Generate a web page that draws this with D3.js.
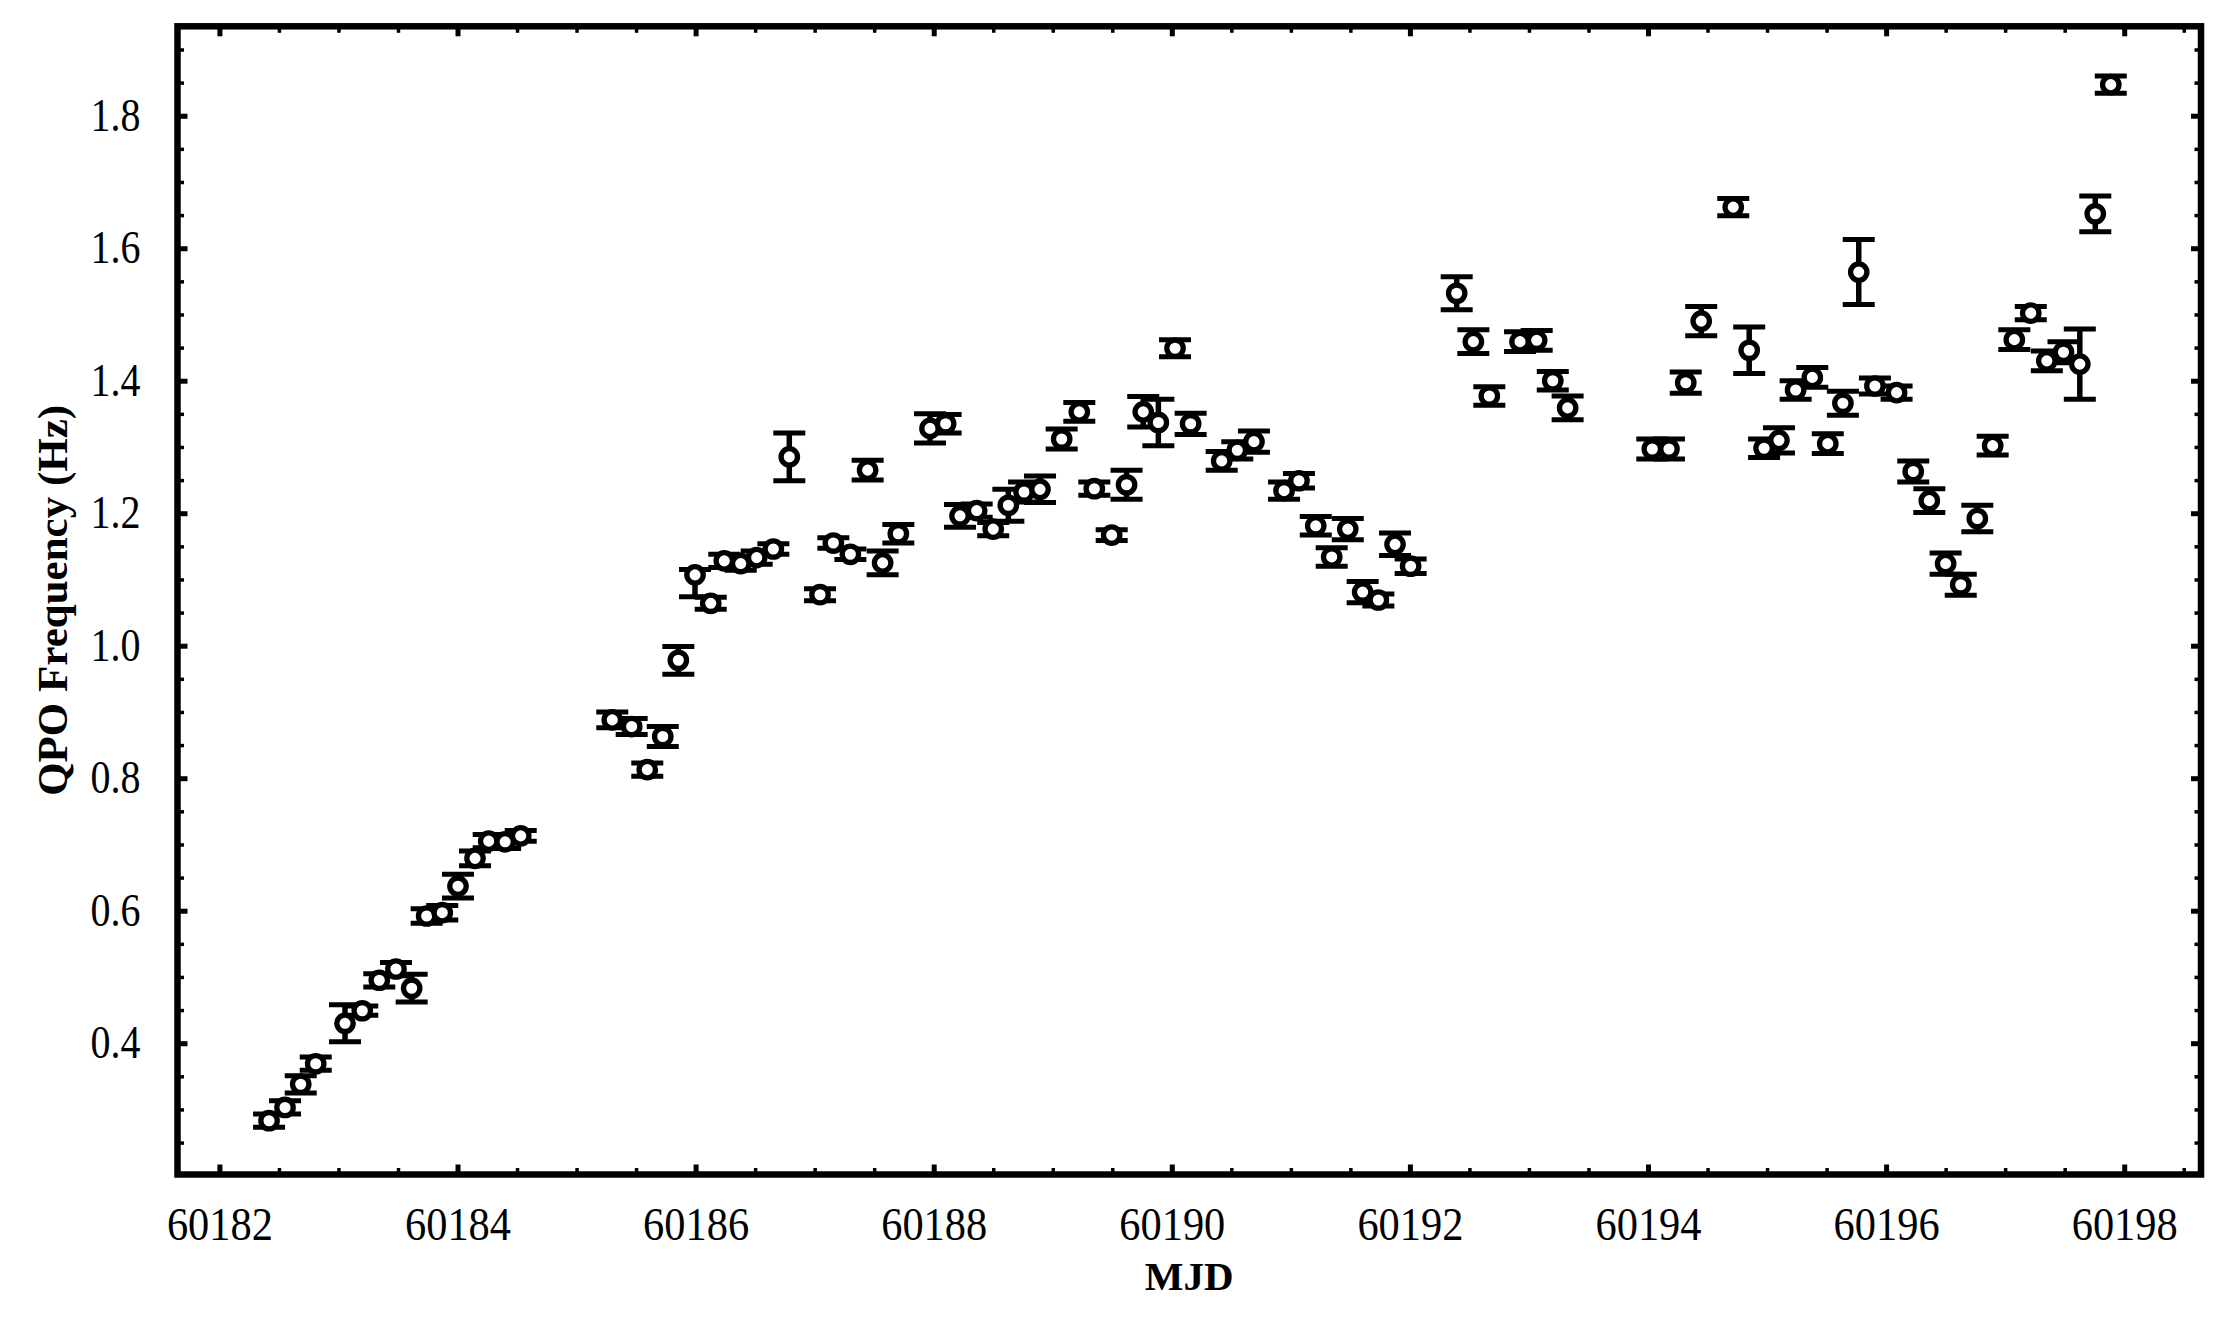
<!DOCTYPE html>
<html>
<head>
<meta charset="utf-8">
<script src="https://cdn.jsdelivr.net/npm/d3@7"></script>
<style>
  body { margin: 0; background: #fff; }
  svg { display: block; }
</style>
</head>
<body>
<div id="chart"></div>
<script>
// QPO frequency vs MJD
var mjd = [
  60182.417, 60182.551, 60182.683, 60182.809, 60183.055, 60183.200, 60183.343, 60183.483,
  60183.615, 60183.741, 60183.872, 60184.004, 60184.147, 60184.262, 60184.400, 60184.531,
  60185.300, 60185.463, 60185.594, 60185.724, 60185.855, 60185.995, 60186.127, 60186.241,
  60186.379, 60186.513, 60186.653, 60186.787, 60187.045, 60187.157, 60187.300, 60187.445,
  60187.571, 60187.703, 60187.969, 60188.100, 60188.221, 60188.361, 60188.500, 60188.627,
  60188.759, 60188.893, 60189.075, 60189.223, 60189.349, 60189.495, 60189.620, 60189.760,
  60189.887, 60190.027, 60190.158, 60190.419, 60190.550, 60190.690, 60190.943, 60191.068,
  60191.209, 60191.343, 60191.478, 60191.603, 60191.735, 60191.875, 60192.006, 60192.393,
  60192.533, 60192.667, 60192.925, 60193.065, 60193.200, 60193.325,
  60194.036, 60194.176, 60194.317, 60194.447, 60194.716, 60194.850, 60194.975, 60195.100,
  60195.240, 60195.380, 60195.510, 60195.637, 60195.770, 60195.906, 60196.088, 60196.228,
  60196.363, 60196.500, 60196.627, 60196.766, 60196.895, 60197.077, 60197.215, 60197.350,
  60197.490, 60197.627, 60197.757, 60197.887
];
var freq = [
  0.283, 0.303, 0.338, 0.369, 0.430, 0.449, 0.495, 0.512,
  0.483, 0.592, 0.597, 0.637, 0.679, 0.705, 0.704, 0.713,
  0.888, 0.878, 0.813, 0.863, 0.978, 1.107, 1.064, 1.128,
  1.124, 1.133, 1.146, 1.285, 1.077, 1.155, 1.138, 1.265,
  1.125, 1.169, 1.328, 1.335, 1.196, 1.204, 1.176, 1.212,
  1.232, 1.236, 1.312, 1.353, 1.237, 1.167, 1.243, 1.353,
  1.337, 1.449, 1.335, 1.279, 1.295, 1.308, 1.234, 1.249,
  1.181, 1.134, 1.176, 1.081, 1.069, 1.153, 1.120, 1.532,
  1.459, 1.377, 1.459, 1.461, 1.400, 1.359,
  1.297, 1.297, 1.397, 1.490, 1.662, 1.446, 1.298, 1.310,
  1.386, 1.405, 1.305, 1.366, 1.564, 1.392, 1.382, 1.263,
  1.219, 1.124, 1.092, 1.192, 1.302, 1.462, 1.502, 1.430,
  1.443, 1.425, 1.652, 1.847
];
// upper / lower error
var errHi = [
  0.010, 0.010, 0.013, 0.010, 0.028, 0.007, 0.010, 0.010,
  0.021, 0.011, 0.011, 0.018, 0.011, 0.010, 0.010, 0.008,
  0.012, 0.012, 0.010, 0.015, 0.021, 0.008, 0.009, 0.010,
  0.010, 0.010, 0.008, 0.036, 0.009, 0.008, 0.008, 0.015,
  0.018, 0.014, 0.022, 0.014, 0.017, 0.010, 0.010, 0.024,
  0.015, 0.020, 0.015, 0.014, 0.010, 0.008, 0.022, 0.023,
  0.035, 0.013, 0.016, 0.014, 0.013, 0.016, 0.013, 0.011,
  0.014, 0.014, 0.016, 0.016, 0.009, 0.017, 0.011, 0.025,
  0.018, 0.014, 0.015, 0.015, 0.014, 0.018,
  0.015, 0.015, 0.016, 0.022, 0.013, 0.035, 0.014, 0.019,
  0.014, 0.015, 0.015, 0.018, 0.049, 0.012, 0.010, 0.016,
  0.018, 0.016, 0.016, 0.020, 0.014, 0.015, 0.010, 0.015,
  0.016, 0.053, 0.027, 0.013
];
var errLo = [
  0.010, 0.010, 0.013, 0.010, 0.028, 0.007, 0.010, 0.010,
  0.021, 0.011, 0.011, 0.018, 0.011, 0.010, 0.010, 0.008,
  0.012, 0.012, 0.010, 0.015, 0.021, 0.033, 0.009, 0.010,
  0.010, 0.010, 0.008, 0.036, 0.009, 0.008, 0.008, 0.015,
  0.018, 0.014, 0.022, 0.014, 0.017, 0.010, 0.010, 0.024,
  0.015, 0.020, 0.015, 0.014, 0.010, 0.008, 0.022, 0.023,
  0.035, 0.013, 0.016, 0.014, 0.013, 0.016, 0.013, 0.011,
  0.014, 0.014, 0.016, 0.016, 0.009, 0.017, 0.011, 0.025,
  0.018, 0.014, 0.015, 0.015, 0.014, 0.018,
  0.015, 0.015, 0.016, 0.022, 0.013, 0.035, 0.014, 0.019,
  0.014, 0.015, 0.015, 0.018, 0.049, 0.012, 0.010, 0.016,
  0.018, 0.016, 0.016, 0.020, 0.014, 0.015, 0.010, 0.015,
  0.016, 0.053, 0.027, 0.013
];

var xTicks = [60182, 60184, 60186, 60188, 60190, 60192, 60194, 60196, 60198];
var yTicks = [0.4, 0.6, 0.8, 1.0, 1.2, 1.4, 1.6, 1.8];

var width = 2230, height = 1322;
var box = { left: 177.5, right: 2201, top: 26.3, bottom: 1174.5 };
var font = "'Liberation Serif', 'Times New Roman', serif";

var data = mjd.map(function(d, i) {
    return { t: d, f: freq[i], hi: errHi[i], lo: errLo[i] };
});

var svg = d3.select("#chart")
    .append("svg")
    .attr("width", width)
    .attr("height", height)
    .style("background", "#fff");

var x = d3.scaleLinear()
    .domain([60181.648, 60198.645])
    .range([box.left, box.right]);

var y = d3.scaleLinear()
    .domain([0.2018, 1.935])
    .range([box.bottom, box.top]);

// minor ticks every half day / 0.05 Hz
var xMinor = d3.range(60181.5, 60199, 0.5).filter(function(d) {
    return d > x.domain()[0] && d < x.domain()[1] && d % 2 !== 0;
});
var yMinor = d3.range(0.25, 1.95, 0.05).filter(function(d) {
    return Math.abs(Math.round(d * 5) - d * 5) > 0.01;
});

// the labels in the figure are a narrow Times face
function styleAxis(g, w, len) {
    g.select(".domain").remove();
    g.attr("font-family", null);
    g.selectAll(".tick line").attr("stroke", "#000").attr("stroke-width", w);
    var t = g.selectAll(".tick text")
        .style("font-family", font)
        .style("font-size", "46px")
        .attr("fill", "#000");
    if (len) {
        t.attr("textLength", len).attr("lengthAdjust", "spacingAndGlyphs");
    }
}

// bottom
svg.append("g")
    .attr("transform", "translate(0," + box.bottom + ")")
    .call(d3.axisBottom(x).tickValues(xTicks).tickSize(-10).tickPadding(33).tickFormat(d3.format("d")))
    .call(styleAxis, 5, 106);
svg.append("g")
    .attr("transform", "translate(0," + box.bottom + ")")
    .call(d3.axisBottom(x).tickValues(xMinor).tickSize(-6.5).tickFormat(""))
    .call(styleAxis, 3.5);

// top
svg.append("g")
    .attr("transform", "translate(0," + box.top + ")")
    .call(d3.axisTop(x).tickValues(xTicks).tickSize(-10).tickFormat(""))
    .call(styleAxis, 5);
svg.append("g")
    .attr("transform", "translate(0," + box.top + ")")
    .call(d3.axisTop(x).tickValues(xMinor).tickSize(-6.5).tickFormat(""))
    .call(styleAxis, 3.5);

// left
svg.append("g")
    .attr("transform", "translate(" + box.left + ",0)")
    .call(d3.axisLeft(y).tickValues(yTicks).tickSize(-10).tickPadding(37).tickFormat(d3.format(".1f")))
    .call(styleAxis, 5, 50);
svg.append("g")
    .attr("transform", "translate(" + box.left + ",0)")
    .call(d3.axisLeft(y).tickValues(yMinor).tickSize(-6.5).tickFormat(""))
    .call(styleAxis, 3.5);

// right
svg.append("g")
    .attr("transform", "translate(" + box.right + ",0)")
    .call(d3.axisRight(y).tickValues(yTicks).tickSize(-10).tickFormat(""))
    .call(styleAxis, 5);
svg.append("g")
    .attr("transform", "translate(" + box.right + ",0)")
    .call(d3.axisRight(y).tickValues(yMinor).tickSize(-6.5).tickFormat(""))
    .call(styleAxis, 3.5);

// frame
svg.append("rect")
    .attr("x", box.left)
    .attr("y", box.top)
    .attr("width", box.right - box.left)
    .attr("height", box.bottom - box.top)
    .attr("fill", "none")
    .attr("stroke", "#000")
    .attr("stroke-width", 6.5);

// error bars
var eb = svg.append("g").attr("stroke", "#000");
eb.selectAll("line.v")
    .data(data)
    .enter()
    .append("line")
    .attr("class", "v")
    .attr("x1", function(d) { return x(d.t); })
    .attr("x2", function(d) { return x(d.t); })
    .attr("y1", function(d) { return y(d.f - d.lo); })
    .attr("y2", function(d) { return y(d.f + d.hi); })
    .attr("stroke-width", 5.5);
eb.selectAll("line.top")
    .data(data)
    .enter()
    .append("line")
    .attr("class", "top")
    .attr("x1", function(d) { return x(d.t) - 16; })
    .attr("x2", function(d) { return x(d.t) + 16; })
    .attr("y1", function(d) { return y(d.f + d.hi); })
    .attr("y2", function(d) { return y(d.f + d.hi); })
    .attr("stroke-width", 5);
eb.selectAll("line.bot")
    .data(data)
    .enter()
    .append("line")
    .attr("class", "bot")
    .attr("x1", function(d) { return x(d.t) - 16; })
    .attr("x2", function(d) { return x(d.t) + 16; })
    .attr("y1", function(d) { return y(d.f - d.lo); })
    .attr("y2", function(d) { return y(d.f - d.lo); })
    .attr("stroke-width", 5);

// open circles
svg.append("g")
    .selectAll("circle")
    .data(data)
    .enter()
    .append("circle")
    .attr("cx", function(d) { return x(d.t); })
    .attr("cy", function(d) { return y(d.f); })
    .attr("r", 8.2)
    .attr("fill", "#fff")
    .attr("stroke", "#000")
    .attr("stroke-width", 5.3);

// axis titles
svg.append("text")
    .attr("x", (box.left + box.right) / 2)
    .attr("y", 1290)
    .attr("text-anchor", "middle")
    .style("font-family", font)
    .style("font-weight", "bold")
    .style("font-size", "41px")
    .text("MJD");

svg.append("text")
    .attr("transform", "translate(67," + ((box.top + box.bottom) / 2) + ") rotate(-90)")
    .attr("text-anchor", "middle")
    .style("font-family", font)
    .style("font-weight", "bold")
    .style("font-size", "43px")
    .text("QPO Frequency (Hz)");
</script>
</body>
</html>
